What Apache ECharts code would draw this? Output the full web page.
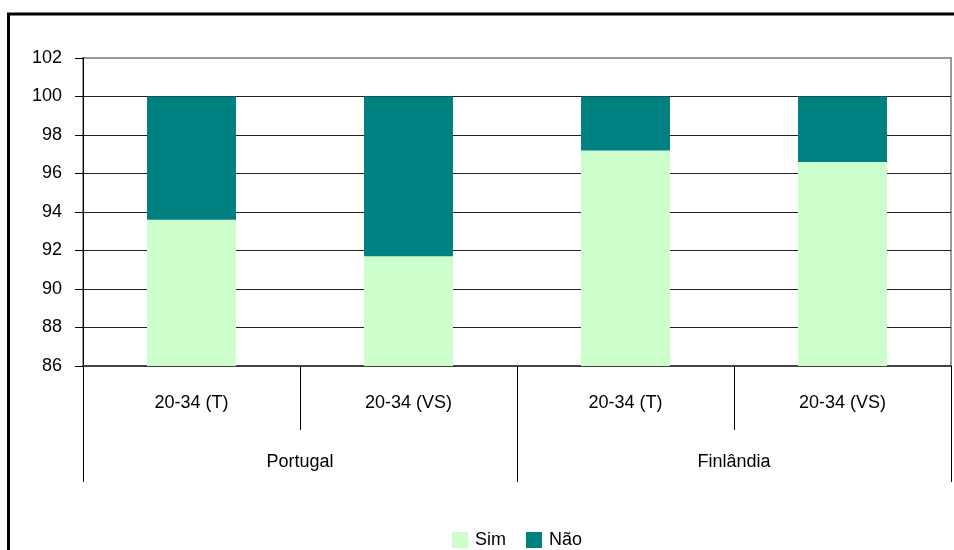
<!DOCTYPE html>
<html>
<head>
<meta charset="utf-8">
<script src="https://cdn.jsdelivr.net/npm/echarts@6/dist/echarts.min.js"></script>
<style>
html, body { margin: 0; padding: 0; background: #fff; }
#chart { width: 954px; height: 550px; }
</style>
</head>
<body>
<div id="chart"></div>
<script>
var groups = ['20-34 (T)', '20-34 (VS)', '20-34 (T)', '20-34 (VS)']
var countries = ['Portugal', 'Finlândia']
var sim = [93.6, 91.7, 97.2, 96.6]
var nao = [6.4, 8.3, 2.8, 3.4]

var font = 'Liberation Sans, Arial, sans-serif'

var chart = echarts.init(document.getElementById('chart'))
chart.setOption({
    animation: false,
    textStyle: { fontFamily: font },
    graphic: [{
        type: 'rect',
        shape: { x: 8.5, y: 14, width: 1000, height: 600 },
        style: { fill: 'none', stroke: '#000', lineWidth: 3 },
        z: -1
    }],
    legend: {
        data: ['Sim', 'Não'],
        top: 526,
        left: 447,
        icon: 'rect',
        itemWidth: 16,
        itemHeight: 16,
        itemGap: 20,
        textStyle: { fontSize: 18, color: '#000', fontFamily: font, padding: [0, 0, 0, 2] }
    },
    grid: {
        left: 83,
        right: 3,
        top: 58,
        bottom: 184,
        show: true,
        borderColor: '#999',
        borderWidth: 2
    },
    xAxis: [
        {
            type: 'category',
            position: 'bottom',
            offset: 0,
            data: groups,
            axisLine: { show: true, lineStyle: { color: '#444', width: 2 } },
            axisTick: { show: true, interval: 0, length: 64, lineStyle: { color: '#000', width: 1 } },
            axisLabel: { interval: 0, margin: 28, fontSize: 18, color: '#000', fontFamily: font }
        },
        {
            type: 'category',
            position: 'bottom',
            offset: 0,
            data: countries,
            axisLine: { show: false },
            axisTick: { show: true, interval: 0, length: 116, lineStyle: { color: '#000', width: 1 } },
            axisLabel: { interval: 0, margin: 87, fontSize: 18, color: '#000', fontFamily: font }
        }
    ],
    yAxis: {
        type: 'value',
        min: 86,
        max: 102,
        interval: 2,
        axisLine: { show: true, lineStyle: { color: '#000', width: 1 } },
        axisTick: { show: true, length: 8, lineStyle: { color: '#000' } },
        axisLabel: { margin: 21, fontSize: 18, color: '#000', fontFamily: font },
        splitLine: {
            lineStyle: {
                color: ['#222', '#222', '#222', '#222', '#222', '#222', '#222', '#222', '#999'],
                width: 1
            }
        }
    },
    series: [
        {
            name: 'Sim',
            type: 'bar',
            stack: 'total',
            xAxisIndex: 0,
            barWidth: '41%',
            itemStyle: { color: '#CCFFCC' },
            data: sim
        },
        {
            name: 'Não',
            type: 'bar',
            stack: 'total',
            xAxisIndex: 0,
            barWidth: '41%',
            itemStyle: { color: '#008080' },
            data: nao
        }
    ]
})
</script>
</body>
</html>
